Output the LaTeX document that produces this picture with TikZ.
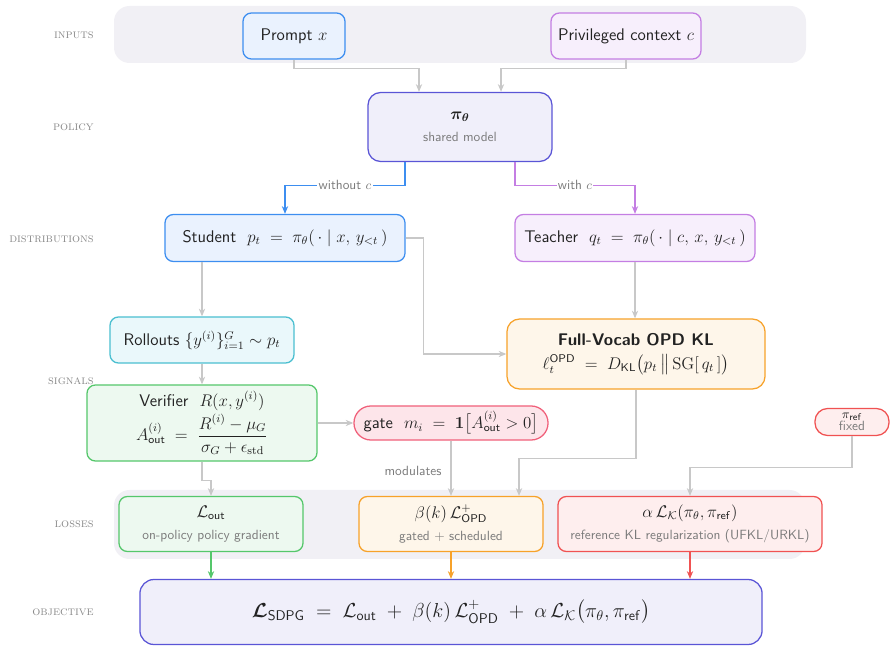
\documentclass[tikz,border=0pt]{standalone}
\usepackage{amsmath,amssymb,bm}
\usetikzlibrary{arrows.meta,calc}

\definecolor{bandgrey}{HTML}{F1F0F5}
\definecolor{textdark}{HTML}{222222}
\definecolor{subgrey}{HTML}{7A7A7A}
\definecolor{lanegrey}{HTML}{8A8A8A}
\definecolor{flowgrey}{HTML}{C8C8C8}
\definecolor{blueline}{HTML}{3D8EF0}\definecolor{bluefill}{HTML}{EAF2FE}
\definecolor{purpleline}{HTML}{C47EE3}\definecolor{purplefill}{HTML}{F7EFFC}
\definecolor{indigoline}{HTML}{5A55D6}\definecolor{indigofill}{HTML}{F0EFFA}
\definecolor{cyanline}{HTML}{4BBFD0}\definecolor{cyanfill}{HTML}{EAF8FB}
\definecolor{orangeline}{HTML}{F7A22A}\definecolor{orangefill}{HTML}{FEF6EA}
\definecolor{greenline}{HTML}{55C76B}\definecolor{greenfill}{HTML}{EDF9F0}
\definecolor{pinkline}{HTML}{F0607A}\definecolor{pinkfill}{HTML}{FDE5EA}
\definecolor{redline}{HTML}{F05252}\definecolor{redfill}{HTML}{FEEEEE}

\newcommand{\subtxt}[1]{{\fontsize{9.5}{11}\selectfont\color{subgrey}#1}}

\tikzset{
  box/.style={draw, rounded corners=6pt, line width=0.9pt, align=center, inner sep=2pt,
    text=textdark, font=\sffamily\fontsize{12}{15}\selectfont},
  bluebox/.style={box, draw=blueline, fill=bluefill},
  purplebox/.style={box, draw=purpleline, fill=purplefill},
  indigobox/.style={box, draw=indigoline, fill=indigofill},
  cyanbox/.style={box, draw=cyanline, fill=cyanfill},
  orangebox/.style={box, draw=orangeline, fill=orangefill},
  greenbox/.style={box, draw=greenline, fill=greenfill},
  redbox/.style={box, draw=redline, fill=redfill},
  lane/.style={anchor=east, inner sep=0pt, text=lanegrey, font=\fontsize{9}{10}\selectfont\scshape},
  flow/.style={draw=flowgrey, line width=0.8pt, -{Stealth[length=5.5pt,width=4.5pt]}},
  band/.style={fill=bandgrey, rounded corners=11pt}
}

\begin{document}
\begin{tikzpicture}[x=0.025cm, y=-0.025cm]
\useasboundingbox (0,0) rectangle (896,668);
\fill[band] (114,6) rectangle (806,63);
\fill[band] (114,490) rectangle (805,559);

\node[lane] (laneinputs) at (94,35) {inputs};
\node[lane] (lanepolicy) at (94,127) {policy};
\node[lane] (lanedist) at (94,239) {distributions};
\node[lane] (lanesignals) at (94,381) {signals};
\node[lane] (laneloss) at (94,524) {losses};
\node[lane] (laneobj) at (94,612) {objective};

\node[bluebox, minimum width=2.55cm, minimum height=1.15cm] (prompt) at (294,36) {Prompt $x$};
\node[purplebox, minimum width=3.75cm, minimum height=1.15cm] (priv) at (626,36) {Privileged context $c$};
\node[indigobox, minimum width=4.6cm, minimum height=1.725cm, rounded corners=9pt] (pi) at (460,127)
  {$\boldsymbol{\pi_\theta}$\\[1pt] \subtxt{shared model}};
\node[bluebox, minimum width=6cm, minimum height=1.175cm] (student) at (285,238)
  {Student~~$p_t \;=\; \pi_\theta(\,\cdot\mid x,\, y_{<t}\,)$};
\node[purplebox, minimum width=6cm, minimum height=1.175cm] (teacher) at (635,238)
  {Teacher~~$q_t \;=\; \pi_\theta(\,\cdot\mid c,\, x,\, y_{<t}\,)$};
\node[cyanbox, minimum width=4.6cm, minimum height=1.15cm] (rollouts) at (202,340)
  {Rollouts $\{y^{(i)}\}_{i=1}^{G}\sim p_t$};
\node[orangebox, minimum width=6.45cm, minimum height=1.75cm, rounded corners=9pt] (opd) at (636,354)
  {\textbf{Full-Vocab OPD KL}\\[2pt] $\ell_t^{\mathsf{OPD}} \;=\; D_{\mathsf{KL}}\big(p_t \,\big\|\, \mathrm{SG}[\,q_t\,]\big)$};
\node[greenbox, minimum width=5.75cm, minimum height=1.9cm] (verifier) at (202,423)
  {Verifier~~$R(x,y^{(i)})$\\[2pt] $A^{(i)}_{\mathsf{out}} \;=\; \dfrac{R^{(i)}-\mu_G}{\sigma_G+\epsilon_{\mathrm{std}}}$};
\node[box, draw=pinkline, fill=pinkfill, rounded corners=12pt, minimum width=4.85cm, minimum height=0.85cm] (gate) at (451,423)
  {gate~~$m_i \;=\; \mathbf{1}\big[A^{(i)}_{\mathsf{out}}>0\big]$};
\node[redbox, rounded corners=9pt, minimum width=1.85cm, minimum height=0.675cm, inner sep=1pt,
  font=\sffamily\fontsize{9.5}{9}\selectfont] (piref) at (852,422)
  {$\pi_{\mathsf{ref}}$\\ \subtxt{fixed}};

\node[greenbox, minimum width=4.6cm, minimum height=1.375cm] (lout) at (211,524)
  {$\mathcal{L}_{\mathsf{out}}$\\[1pt] \subtxt{on-policy policy gradient}};
\node[orangebox, minimum width=4.6cm, minimum height=1.375cm] (lopd) at (451,524)
  {$\beta(k)\,\mathcal{L}^{+}_{\mathsf{OPD}}$\\[1pt] \subtxt{gated + scheduled}};
\node[redbox, minimum width=6.6cm, minimum height=1.375cm] (lref) at (690,524)
  {$\alpha\,\mathcal{L}_{\mathcal{K}}(\pi_\theta,\pi_{\mathsf{ref}})$\\[1pt] \subtxt{reference KL regularization (UFKL/URKL)}};
\node[indigobox, rounded corners=10pt, minimum width=15.55cm, minimum height=1.625cm,
  font=\sffamily\fontsize{14}{17}\selectfont] (obj) at (451,612)
  {$\boldsymbol{\mathcal{L}}_{\mathsf{SDPG}} \;=\; \mathcal{L}_{\mathsf{out}} \;+\; \beta(k)\,\mathcal{L}^{+}_{\mathsf{OPD}} \;+\; \alpha\,\mathcal{L}_{\mathcal{K}}\big(\pi_\theta,\pi_{\mathsf{ref}}\big)$};

\draw[flow] (prompt.south) -- ++(0,9) -| ([xshift=-1.025cm]pi.north);
\draw[flow] (priv.south) -- ++(0,9) -| ([xshift=1.025cm]pi.north);
\draw[flow, draw=blueline] ([xshift=-1.375cm]pi.south) -- ++(0,23) -| (student.north)
  node[pos=0.25, fill=white, inner sep=1pt, text=subgrey, font=\sffamily\fontsize{9.5}{11}\selectfont] {without $c$};
\draw[flow, draw=purpleline] ([xshift=1.375cm]pi.south) -- ++(0,23) -| (teacher.north)
  node[pos=0.25, fill=white, inner sep=1pt, text=subgrey, font=\sffamily\fontsize{9.5}{11}\selectfont] {with $c$};
\draw[flow] (student.east) -- ++(18,0) |- (opd.west);
\draw[flow] (rollouts.north |- student.south) -- (rollouts.north);
\draw[flow] (teacher.south) -- (teacher.south |- opd.north);
\draw[flow] (rollouts.south) -- (verifier.north);
\draw[flow] (verifier.east) -- (gate.west);
\draw[flow] (gate.south) -- (lopd.north)
  node[pos=0.55, left=3pt, text=subgrey, font=\sffamily\fontsize{9.5}{11}\selectfont] {modulates};
\draw[flow] (opd.south) -- ++(0,69) -| ([xshift=1.7cm]lopd.north);
\draw[flow] (piref.south) -- ++(0,31) -| (lref.north);
\draw[flow] (verifier.south) -- ++(0,19) -| (lout.north);
\draw[flow, draw=greenline] (lout.south) -- (lout.south |- obj.north);
\draw[flow, draw=orangeline] (lopd.south) -- (lopd.south |- obj.north);
\draw[flow, draw=redline] (lref.south) -- (lref.south |- obj.north);
\end{tikzpicture}
\end{document}
